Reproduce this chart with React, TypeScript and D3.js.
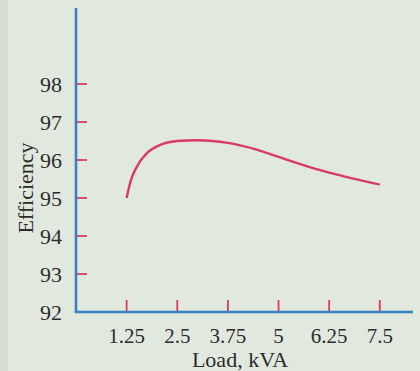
import React from 'react';
import * as d3 from 'd3';

// Load (kVA) vs efficiency (%)
const loadKVA = [1.25, 1.35, 1.5, 1.75, 2.0, 2.5, 3.0, 3.75, 4.5, 5.0, 5.75, 6.5, 7.5];
const efficiency = [95.0, 95.45, 95.82, 96.18, 96.36, 96.5, 96.52, 96.45, 96.26, 96.08, 95.82, 95.6, 95.35];

const xTicks = [1.25, 2.5, 3.75, 5, 6.25, 7.5];
const xTickLabels = ['1.25', '2.5', '3.75', '5', '6.25', '7.5'];
const yTicks = [92, 93, 94, 95, 96, 97, 98];

const W = 420;
const H = 371;

const App: React.FC = () => {
  const x = d3.scaleLinear().domain([0, 8.32]).range([76, 413]);
  const y = d3.scaleLinear().domain([92, 100]).range([312, 8]);

  const points: [number, number][] = loadKVA.map((d, i) => [d, efficiency[i]]);
  const line = d3.line<[number, number]>()
    .x(d => x(d[0]))
    .y(d => y(d[1]))
    .curve(d3.curveMonotoneX);

  const font = '"Liberation Serif", "Times New Roman", serif';
  const red = '#e0375f';
  const blue = '#3a80c6';
  const ink = '#2c2c2c';

  return (
    <svg
      width={W}
      height={H}
      style={{ position: 'absolute', left: 0, top: 0, display: 'block' }}
    >
      <rect x={0} y={0} width={W} height={H} fill="#e1e9de" />
      <rect x={0} y={0} width={8} height={H} fill="#d6ded3" />

      {/* curve */}
      <path d={line(points) || ''} fill="none" stroke="#d93a63" strokeWidth={2.4} />

      {/* y ticks */}
      {yTicks.map(t => (
        <g key={'y' + t}>
          {t !== 92 && (
            <line x1={x(0)} x2={x(0) + 11} y1={y(t)} y2={y(t)} stroke={red} strokeWidth={1.8} />
          )}
          <text
            x={62}
            y={y(t)}
            textAnchor="end"
            dominantBaseline="central"
            fontFamily={font}
            fontSize={22}
            fill={ink}
          >
            {t}
          </text>
        </g>
      ))}

      {/* x ticks */}
      {xTicks.map((t, i) => (
        <g key={'x' + t}>
          <line x1={x(t)} x2={x(t)} y1={y(92)} y2={y(92) - 12} stroke={red} strokeWidth={1.8} />
          <text
            x={x(t)}
            y={343}
            textAnchor="middle"
            fontFamily={font}
            fontSize={21}
            fill={ink}
          >
            {xTickLabels[i]}
          </text>
        </g>
      ))}

      {/* axes */}
      <line x1={x(0)} x2={x(0)} y1={y(100)} y2={y(92) + 1} stroke={blue} strokeWidth={2.6} />
      <line x1={x(0) - 1} x2={413} y1={y(92)} y2={y(92)} stroke={blue} strokeWidth={2.6} />

      {/* axis titles */}
      <text
        x={240}
        y={367}
        textAnchor="middle"
        fontFamily={font}
        fontSize={22}
        fill={ink}
      >
        Load, kVA
      </text>
      <text
        transform="translate(25,188) rotate(-90)"
        textAnchor="middle"
        dominantBaseline="central"
        fontFamily={font}
        fontSize={22}
        fill={ink}
      >
        Efficiency
      </text>
    </svg>
  );
};

export default App;
